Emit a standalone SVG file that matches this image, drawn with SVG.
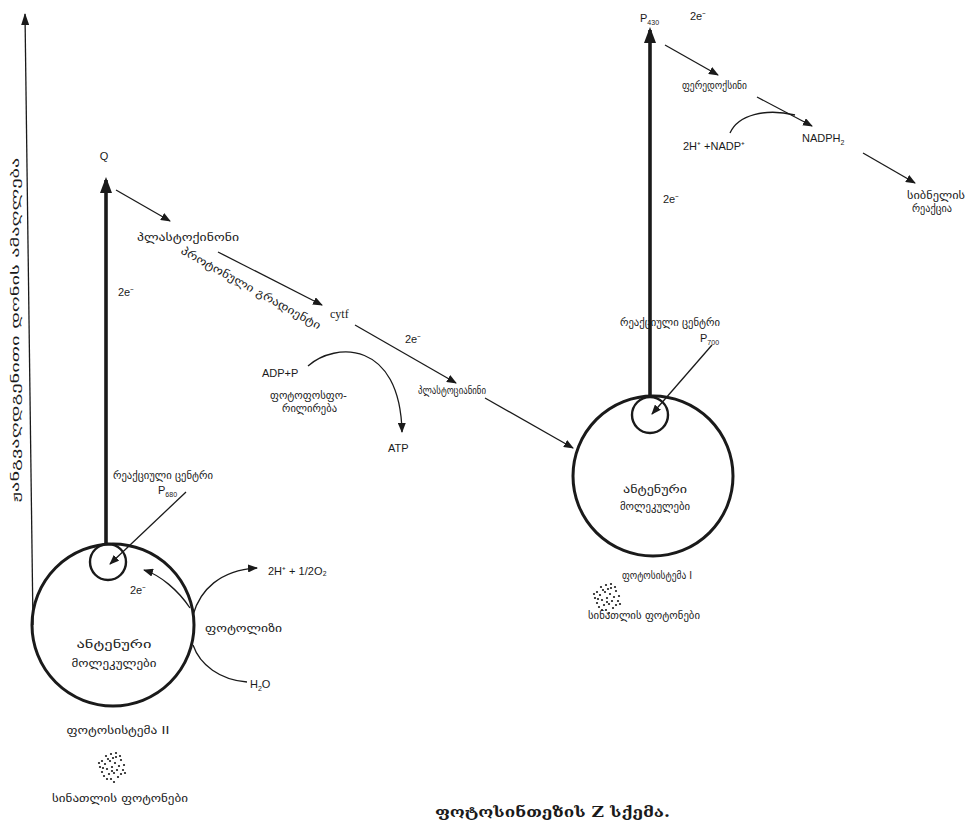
<svg xmlns="http://www.w3.org/2000/svg" xmlns:xlink="http://www.w3.org/1999/xlink" width="965" height="827" viewBox="0 0 965 827">
<style>
.ka{font-family:"DejaVu Sans",sans-serif;font-size:11px;fill:#1a1a1a}
.la{font-family:"Liberation Sans",Arial,sans-serif;font-size:11px;fill:#1a1a1a}
.se{font-family:"Liberation Serif","Times New Roman",serif;font-size:12px;fill:#1a1a1a}
.cap{font-family:"DejaVu Serif",serif;font-size:15px;font-weight:bold;fill:#1a1a1a}
.thin{fill:none;stroke:#1a1a1a;stroke-width:1.3}
.thick{fill:none;stroke:#1a1a1a;stroke-width:3.6}
.ring{fill:none;stroke:#1a1a1a;stroke-width:3}
.ring2{fill:none;stroke:#1a1a1a;stroke-width:2.4}
.mid{text-anchor:middle}
.sub{font-size:7px;fill:#1a1a1a}
</style>
<defs>
<marker id="ah" viewBox="0 0 10 8" refX="9" refY="4" markerWidth="10" markerHeight="8" markerUnits="userSpaceOnUse" orient="auto"><path d="M0,0 L10,4 L0,8 z" fill="#1a1a1a"/></marker>
<marker id="ax" viewBox="0 0 12 8" refX="11" refY="4" markerWidth="12" markerHeight="8" markerUnits="userSpaceOnUse" orient="auto"><path d="M0,0 L12,4 L0,8 z" fill="#1a1a1a"/></marker>
<marker id="big" viewBox="0 0 16 12" refX="13" refY="6" markerWidth="16" markerHeight="12" markerUnits="userSpaceOnUse" orient="auto"><path d="M0,0 L16,6 L0,12 z" fill="#1a1a1a"/></marker>
<g id="photons" fill="#1a1a1a">
<circle cx="-10" cy="-6" r="1.1"/><circle cx="-6" cy="-11" r="1.1"/><circle cx="-1" cy="-13" r="1.1"/><circle cx="4" cy="-10" r="1.1"/><circle cx="9" cy="-7" r="1.1"/><circle cx="12" cy="-2" r="1.1"/><circle cx="-12" cy="0" r="1.1"/><circle cx="-7" cy="-3" r="1.1"/><circle cx="-2" cy="-6" r="1.1"/><circle cx="3" cy="-4" r="1.1"/><circle cx="7" cy="-1" r="1.1"/><circle cx="11" cy="3" r="1.1"/><circle cx="-10" cy="5" r="1.1"/><circle cx="-5" cy="2" r="1.1"/><circle cx="0" cy="0" r="1.1"/><circle cx="5" cy="3" r="1.1"/><circle cx="9" cy="7" r="1.1"/><circle cx="-8" cy="9" r="1.1"/><circle cx="-3" cy="7" r="1.1"/><circle cx="2" cy="6" r="1.1"/><circle cx="6" cy="10" r="1.1"/><circle cx="-1" cy="12" r="1.1"/><circle cx="2" cy="15" r="1.1"/><circle cx="-5" cy="12" r="1.1"/><circle cx="1" cy="-9" r="1.1"/><circle cx="-4" cy="-8" r="1.1"/><circle cx="8" cy="-11" r="1.1"/><circle cx="-13" cy="-4" r="1.1"/><circle cx="13" cy="6" r="1.1"/><circle cx="0" cy="4" r="1.1"/><circle cx="-9" cy="1" r="1.1"/><circle cx="4" cy="-14" r="1.1"/>
</g>
</defs>
<rect width="965" height="827" fill="#ffffff"/>

<g id="axis">
<line class="thin" x1="33" y1="625" x2="25" y2="14" marker-end="url(#ax)"/>
<text class="ka mid" transform="translate(19,330) rotate(-90)" textLength="345" lengthAdjust="spacingAndGlyphs">ჟანგვაღდგენითი დონის ამაღლება</text>
</g>

<g id="connectors">
<line class="thick" x1="106" y1="544" x2="106" y2="180" marker-end="url(#big)"/>
<line class="thick" x1="650" y1="397" x2="650" y2="30" marker-end="url(#big)"/>
<line class="thin" x1="116" y1="190" x2="170" y2="221" marker-end="url(#ah)"/>
<line class="thin" x1="218" y1="252" x2="322" y2="305" marker-end="url(#ah)"/>
<line class="thin" x1="355" y1="325" x2="456" y2="383" marker-end="url(#ah)"/>
<line class="thin" x1="485" y1="398" x2="573" y2="448" marker-end="url(#ah)"/>
<path class="thin" d="M308,366 C335,342 400,340 402,432" marker-end="url(#ah)"/>
<line class="thin" x1="186" y1="492" x2="110" y2="564" marker-end="url(#ah)"/>
<line class="thin" x1="712" y1="345" x2="652" y2="414" marker-end="url(#ah)"/>
<path class="thin" d="M190,608 C178,590 160,575 144,570" marker-end="url(#ah)"/>
<path class="thin" d="M193,615 C200,590 220,570 257,568" marker-end="url(#ah)"/>
<path class="thin" d="M193,645 C200,665 220,680 247,682"/>
<line class="thin" x1="665" y1="45" x2="718" y2="75" marker-end="url(#ah)"/>
<line class="thin" x1="757" y1="97" x2="812" y2="126" marker-end="url(#ah)"/>
<path class="thin" d="M730,133 C738,115 765,108 795,115"/>
<line class="thin" x1="863" y1="153" x2="915" y2="183" marker-end="url(#ah)"/>
</g>

<g id="labels-e">
<text class="la" x="118" y="296" font-size="10">2e⁻</text>
<text class="la" x="405" y="343" font-size="10">2e⁻</text>
<text class="la" x="130" y="594" font-size="10">2e⁻</text>
<text class="la" x="690" y="20" font-size="10">2e⁻</text>
<text class="la" x="663" y="203" font-size="10">2e⁻</text>
</g>

<g id="q"><text class="la mid" x="104" y="160">Q</text></g>

<g id="plastoquinone">
<text class="ka" x="137" y="241" textLength="102" lengthAdjust="spacingAndGlyphs">პლასტოქინონი</text>
<text class="ka" transform="translate(180,253) rotate(29)" textLength="158" lengthAdjust="spacingAndGlyphs">პროტონული გრადიენტი</text>
</g>

<g id="cytf"><text class="se" x="330" y="318">cytf</text></g>

<g id="plastocyanin">
<text class="ka" x="418" y="394" textLength="68" lengthAdjust="spacingAndGlyphs">პლასტოციანინი</text>
</g>

<g id="photophosphorylation">
<text class="la" x="262" y="377">ADP+P</text>
<text class="ka" x="270" y="399" textLength="77" lengthAdjust="spacingAndGlyphs">ფოტოფოსფო-</text>
<text class="ka" x="282" y="412" textLength="55" lengthAdjust="spacingAndGlyphs">რილირება</text>
<text class="la" x="388" y="452">ATP</text>
</g>

<g id="psii">
<circle class="ring" cx="113" cy="625" r="81"/>
<circle class="ring2" cx="108" cy="562" r="18"/>
<text class="ka" x="113" y="479" textLength="100" lengthAdjust="spacingAndGlyphs">რეაქციული ცენტრი</text>
<text class="la" x="158" y="494">P<tspan class="sub" dy="3">680</tspan></text>
<text class="ka mid" x="114" y="648" textLength="75" lengthAdjust="spacingAndGlyphs">ანტენური</text>
<text class="ka mid" x="114" y="667" textLength="85" lengthAdjust="spacingAndGlyphs">მოლეკულები</text>
<text class="ka mid" x="118" y="734" textLength="103" lengthAdjust="spacingAndGlyphs">ფოტოსისტემა II</text>
<use xlink:href="#photons" x="112" y="767"/>
<text class="ka mid" x="120" y="802" textLength="136" lengthAdjust="spacingAndGlyphs">სინათლის ფოტონები</text>
</g>

<g id="photolysis">
<text class="la" x="268" y="575">2H⁺ + 1/2O₂</text>
<text class="ka" x="205" y="632" textLength="77" lengthAdjust="spacingAndGlyphs">ფოტოლიზი</text>
<text class="la" x="250" y="688">H<tspan class="sub" dy="3">2</tspan><tspan dy="-3">O</tspan></text>
</g>

<g id="psi">
<circle class="ring" cx="653" cy="476" r="80"/>
<circle class="ring2" cx="650" cy="415" r="18"/>
<text class="ka" x="620" y="326" textLength="100" lengthAdjust="spacingAndGlyphs">რეაქციული ცენტრი</text>
<text class="la" x="700" y="342">P<tspan class="sub" dy="3">700</tspan></text>
<text class="ka mid" x="655" y="493" textLength="64" lengthAdjust="spacingAndGlyphs">ანტენური</text>
<text class="ka mid" x="655" y="510" textLength="70" lengthAdjust="spacingAndGlyphs">მოლეკულები</text>
<text class="ka mid" x="657" y="579" textLength="70" lengthAdjust="spacingAndGlyphs">ფოტოსისტემა I</text>
<use xlink:href="#photons" x="607" y="598"/>
<text class="ka mid" x="644" y="619" textLength="112" lengthAdjust="spacingAndGlyphs">სინათლის ფოტონები</text>
</g>

<g id="p430"><text class="la" x="640" y="22" font-size="12">P<tspan class="sub" dy="3">430</tspan></text></g>
<g id="ferredoxin"><text class="ka" x="682" y="89" textLength="65" lengthAdjust="spacingAndGlyphs">ფერედოქსინი</text></g>
<g id="nadp"><text class="la" x="683" y="150">2H⁺ +NADP⁺</text></g>
<g id="nadph"><text class="la" x="802" y="142">NADPH<tspan class="sub" dy="3">2</tspan></text></g>
<g id="dark">
<text class="ka" x="907" y="199" textLength="58" lengthAdjust="spacingAndGlyphs">სიბნელის</text>
<text class="ka" x="912" y="212" textLength="40" lengthAdjust="spacingAndGlyphs">რეაქცია</text>
</g>

<g id="caption"><text class="cap" x="435" y="817" textLength="235" lengthAdjust="spacingAndGlyphs">ფოტოსინთეზის Z სქემა.</text></g>
</svg>
